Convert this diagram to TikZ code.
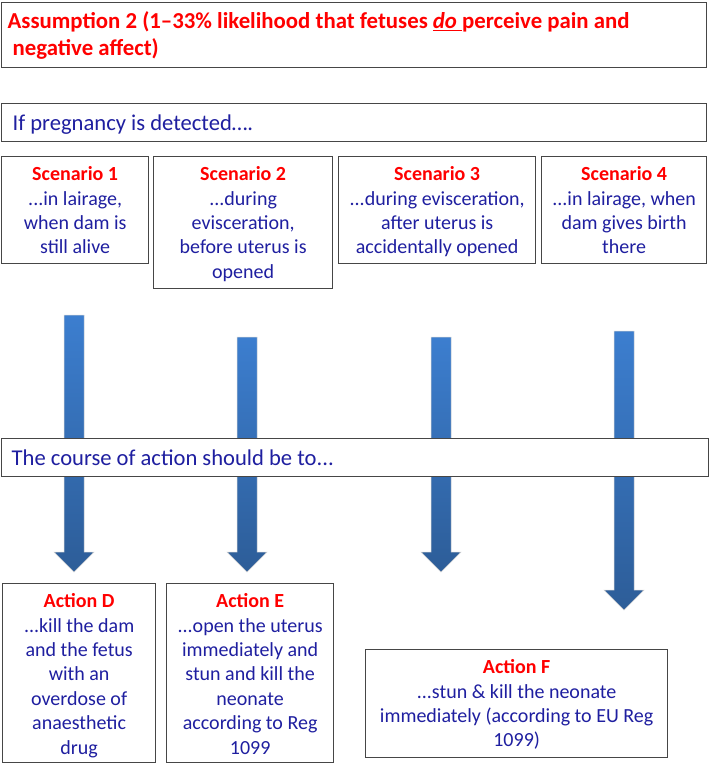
\documentclass[tikz,border=0pt]{standalone}
\usepackage{fontspec}
\setmainfont{Carlito}
\usetikzlibrary{calc}
\definecolor{txtred}{RGB}{255,0,0}
\definecolor{txtblue}{RGB}{31,31,160}
\definecolor{boxgray}{RGB}{70,70,70}
\definecolor{arrtop}{RGB}{60,126,207}
\definecolor{arrbot}{RGB}{45,93,152}
\newcommand\hd[1]{{\bfseries\color{txtred}#1}}
\newcommand\fatarrow[2]{%
  \path[arrowfill] ($(#1)+(-10,0)$) -- ($(#1)+(10,0)$) -- ($(#2)+(10,-20)$) -- ($(#2)+(20,-20)$) -- (#2) -- ($(#2)+(-20,-20)$) -- ($(#2)+(-10,-20)$) -- cycle;}
\tikzset{
  box/.style={draw=boxgray, line width=1.3pt, fill=white, inner sep=0pt, anchor=north west,
    text=txtblue, font=\fontsize{20}{24.4}\selectfont},
  wide/.style={box, font=\fontsize{22.6}{27}\selectfont},
  arrowfill/.style={top color=arrtop, bottom color=arrbot, draw=black!18, line width=0.5pt}
}
\begin{document}
\begin{tikzpicture}[x=1pt,y=-1pt]
\useasboundingbox (0,0) rectangle (709,764);
% title
\node[box, font=\fontsize{22.8}{27}\selectfont\bfseries, text=txtred] (title) at (1,2)
  {\parbox[t][65pt][t]{705pt}{\raggedright\hspace*{6pt}\rule{0pt}{26pt}Assumption 2 (1--33\% likelihood that fetuses \underline{\textit{do}\ }perceive pain and\\\hspace*{11pt}negative affect)}};
% if pregnancy
\node[wide] (ifp) at (1,103)
  {\parbox[t][38pt][t]{705pt}{\raggedright\hspace*{11pt}\rule{0pt}{27pt}If pregnancy is detected….}};
% scenarios
\node[box] (s1) at (1,156)
  {\parbox[t][107pt][t]{147pt}{\centering\rule{0pt}{24pt}\hd{Scenario 1}\\...in lairage,\\when dam is\\still alive}};
\node[box] (s2) at (153,156)
  {\parbox[t][132pt][t]{179pt}{\centering\rule{0pt}{24pt}\hd{Scenario 2}\\...during\\evisceration,\\before uterus is\\opened}};
\node[box] (s3) at (338,156)
  {\parbox[t][107pt][t]{197pt}{\centering\rule{0pt}{24pt}\hd{Scenario 3}\\...during evisceration,\\after uterus is\\accidentally opened}};
\node[box] (s4) at (541,156)
  {\parbox[t][107pt][t]{165pt}{\centering\rule{0pt}{24pt}\hd{Scenario 4}\\...in lairage, when\\dam gives birth\\there}};
% arrows
\coordinate (a1s) at (74,315);  \coordinate (a1t) at (74,572);
\coordinate (a2s) at (247,337); \coordinate (a2t) at (247,572);
\coordinate (a3s) at (441,337); \coordinate (a3t) at (441,572);
\coordinate (a4s) at (624,331); \coordinate (a4t) at (624,610);
\fatarrow{a1s}{a1t}
\fatarrow{a2s}{a2t}
\fatarrow{a3s}{a3t}
\fatarrow{a4s}{a4t}
% course of action
\node[wide] (course) at (1,438)
  {\parbox[t][38pt][t]{707pt}{\raggedright\hspace*{10pt}\rule{0pt}{27pt}The course of action should be to...}};
% actions
\node[box] (ad) at (2,583)
  {\parbox[t][179pt][t]{153pt}{\centering\rule{0pt}{24pt}\hd{Action D}\\...kill the dam\\and the fetus\\with an\\overdose of\\anaesthetic\\drug}};
\node[box] (ae) at (166,583)
  {\parbox[t][179pt][t]{167pt}{\centering\rule{0pt}{24pt}\hd{Action E}\\...open the uterus\\immediately and\\stun and kill the\\neonate\\according to Reg\\1099}};
\node[box] (af) at (365,649)
  {\parbox[t][108pt][t]{302pt}{\centering\rule{0pt}{24pt}\hd{Action F}\\...stun \& kill the neonate\\immediately (according to EU Reg\\1099)}};
\end{tikzpicture}
\end{document}
